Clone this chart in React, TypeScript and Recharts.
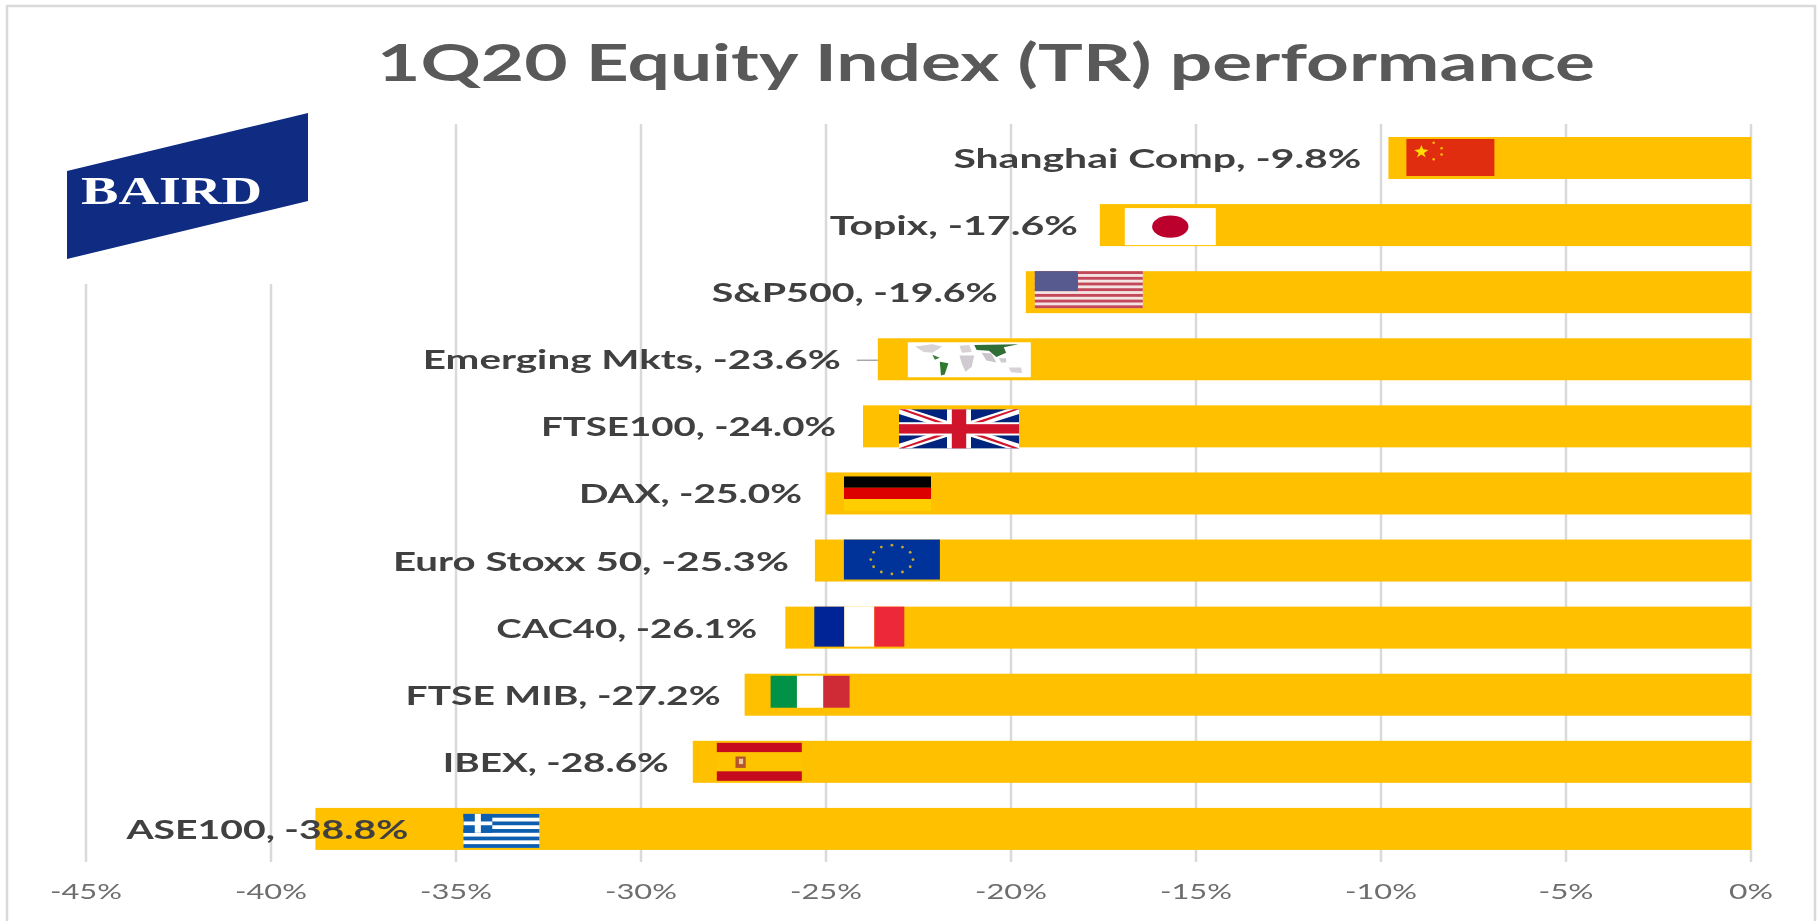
import React from "react";
import { BarChart, Bar, XAxis, YAxis, CartesianGrid, LabelList } from "recharts";

const categories = ["Shanghai Comp", "Topix", "S&P500", "Emerging Mkts", "FTSE100", "DAX", "Euro Stoxx 50", "CAC40", "FTSE MIB", "IBEX", "ASE100"];
const values = [-9.8, -17.6, -19.6, -23.6, -24.0, -25.0, -25.3, -26.1, -27.2, -28.6, -38.8];
const tickValues = [-45, -40, -35, -30, -25, -20, -15, -10, -5, 0];
const flagKinds = ["cn", "jp", "us", "world", "uk", "de", "eu", "fr", "it", "es", "gr"];

const rows = categories.map((name, i) => ({ name, value: values[i] }));

// Decoration layout, relative to each bar's left end and top edge.
const flagBoxes = [
  [18, 2, 88, 37], [25, 4, 91, 37], [9, 0, 108, 37], [30, 4, 123, 35], [36, 4, 120, 39], [18, 4, 87, 34],
  [29, 0, 96, 40], [29, 0, 90, 40], [26, 2, 79, 32], [24, 2, 85, 38], [148, 6, 76, 34],
];
const labelGaps = [27, 22, 28, 37, 27, 24, 26, 28, 24, 24, -93];
const labelWidths = [408, 248, 286, 418, 295, 223, 396, 261, 315, 226, 282];

const FONT = "Lato, 'Open Sans', sans-serif";
const AMBER = "#ffc000";

function Flag({ kind, x, y, w, h }: { kind: string; x: number; y: number; w: number; h: number }) {
  const R = (a: number, b: number, c: number, d: number, fill: string, key?: any) => (
    <rect key={key} x={x + a * w} y={y + b * h} width={c * w} height={d * h} fill={fill} />
  );
  const P = (pts: number[][], fill: string, key?: any) => (
    <polygon key={key} points={pts.map(([a, b]) => `${x + a * w},${y + b * h}`).join(" ")} fill={fill} />
  );
  if (kind === "cn") {
    const dots = [[0.31, 0.1], [0.4, 0.25], [0.4, 0.42], [0.31, 0.55]];
    return (
      <g>
        {R(0, 0, 1, 1, "#e02d10")}
        {P([[0.17, 0.16], [0.19, 0.28], [0.25, 0.3], [0.2, 0.38], [0.22, 0.5], [0.17, 0.42], [0.12, 0.5], [0.14, 0.38], [0.09, 0.3], [0.15, 0.28]], "#ffde00")}
        {dots.map(([a, b], i) => <circle key={i} cx={x + a * w} cy={y + b * h} r={1.3} fill="#f6c000" />)}
      </g>
    );
  }
  if (kind === "jp") {
    return <g>{R(0, 0, 1, 1, "#ffffff")}<ellipse cx={x + w / 2} cy={y + h / 2} rx={w * 0.2} ry={h * 0.3} fill="#bc002d" /></g>;
  }
  if (kind === "us") {
    return (
      <g>
        {R(0, 0, 1, 1, "#f4e4e4")}
        {Array.from({ length: 7 }).map((_, i) => R(0, (i * 2) / 13, 1, 1 / 13, "#c2485a", i))}
        {R(0, 0, 0.4, 7 / 13, "#565a8e")}
      </g>
    );
  }
  if (kind === "world") {
    return (
      <g>
        {R(0, 0, 1, 1, "#ffffff")}
        {P([[0.06, 0.12], [0.2, 0.06], [0.28, 0.12], [0.2, 0.3], [0.13, 0.28]], "#d6d2d6")}
        {P([[0.2, 0.36], [0.26, 0.44], [0.22, 0.5]], "#3c7f3c")}
        {P([[0.26, 0.56], [0.33, 0.6], [0.3, 0.92], [0.27, 0.95]], "#2f7a2f")}
        {P([[0.42, 0.1], [0.5, 0.08], [0.52, 0.28], [0.44, 0.3]], "#d6d2d6")}
        {P([[0.42, 0.38], [0.54, 0.38], [0.52, 0.7], [0.47, 0.84], [0.44, 0.62]], "#cfcbd0")}
        {P([[0.54, 0.08], [0.9, 0.06], [0.78, 0.14], [0.8, 0.3], [0.72, 0.42], [0.66, 0.24], [0.56, 0.22]], "#2f6e36")}
        {P([[0.6, 0.3], [0.68, 0.32], [0.72, 0.58], [0.64, 0.52]], "#c9c5cb")}
        {P([[0.74, 0.46], [0.8, 0.46], [0.8, 0.58], [0.76, 0.58]], "#cfcbd0")}
        {P([[0.82, 0.72], [0.92, 0.72], [0.93, 0.88], [0.84, 0.86]], "#d6d2d6")}
      </g>
    );
  }
  if (kind === "uk") {
    return (
      <g>
        {R(0, 0, 1, 1, "#00247d")}
        {P([[0, 0], [0.1, 0], [1, 0.88], [1, 1], [0.9, 1], [0, 0.12]], "#ffffff", "a")}
        {P([[1, 0], [0.9, 0], [0, 0.88], [0, 1], [0.1, 1], [1, 0.12]], "#ffffff", "b")}
        {P([[0, 0], [0.05, 0], [0.5, 0.47], [0.46, 0.5]], "#cf142b", "c")}
        {P([[1, 1], [0.95, 1], [0.5, 0.53], [0.54, 0.5]], "#cf142b", "d")}
        {P([[1, 0], [0.96, 0], [0.5, 0.46], [0.54, 0.5]], "#cf142b", "e")}
        {P([[0, 1], [0.04, 1], [0.5, 0.54], [0.46, 0.5]], "#cf142b", "f")}
        {R(0.4, 0, 0.2, 1, "#ffffff")}
        {R(0, 0.33, 1, 0.34, "#ffffff")}
        {R(0.44, 0, 0.12, 1, "#cf142b")}
        {R(0, 0.38, 1, 0.24, "#cf142b")}
      </g>
    );
  }
  if (kind === "de") {
    return <g>{R(0, 0, 1, 1 / 3, "#000000")}{R(0, 1 / 3, 1, 1 / 3, "#dd0000")}{R(0, 2 / 3, 1, 1 / 3, "#ffce00")}</g>;
  }
  if (kind === "eu") {
    return (
      <g>
        {R(0, 0, 1, 1, "#003399")}
        {Array.from({ length: 12 }).map((_, i) => (
          <circle key={i} cx={x + w / 2 + Math.cos((i * Math.PI) / 6) * w * 0.22} cy={y + h / 2 + Math.sin((i * Math.PI) / 6) * h * 0.36} r={1.4} fill="#c9a92c" />
        ))}
      </g>
    );
  }
  if (kind === "fr") {
    return <g>{R(0, 0, 1 / 3, 1, "#002395")}{R(1 / 3, 0, 1 / 3, 1, "#ffffff")}{R(2 / 3, 0, 1 / 3, 1, "#ed2939")}</g>;
  }
  if (kind === "it") {
    return <g>{R(0, 0, 1 / 3, 1, "#009246")}{R(1 / 3, 0, 1 / 3, 1, "#ffffff")}{R(2 / 3, 0, 1 / 3, 1, "#ce2b37")}</g>;
  }
  if (kind === "es") {
    return (
      <g>
        {R(0, 0, 1, 0.25, "#c60b1e")}
        {R(0, 0.25, 1, 0.5, "#ffc400")}
        {R(0, 0.75, 1, 0.25, "#c60b1e")}
        {R(0.22, 0.36, 0.12, 0.3, "#b5532a")}
        {R(0.26, 0.42, 0.05, 0.14, "#e8c9a0")}
      </g>
    );
  }
  // Greece
  return (
    <g>
      {R(0, 0, 1, 1, "#ffffff")}
      {[0, 2, 4, 6, 8].map((i) => R(0, i / 9, 1, 1 / 9, "#0d5eaf", i))}
      {R(0, 0, 0.38, 5 / 9, "#0d5eaf")}
      {R(0.15, 0, 0.08, 5 / 9, "#ffffff")}
      {R(0, 2 / 9, 0.38, 1 / 9, "#ffffff")}
    </g>
  );
}

function BarWithFlag(props: any) {
  const { x, y, width, height, index } = props;
  const left = Math.min(x, x + width);
  const [dx, dy, w, h] = flagBoxes[index];
  return (
    <g>
      <rect x={left} y={y} width={Math.abs(width)} height={height} fill={AMBER} />
      <Flag kind={flagKinds[index]} x={left + dx} y={y + dy} w={w} h={h} />
    </g>
  );
}

function DataLabel(props: any) {
  const { x, y, width, height, index } = props;
  const left = Math.min(x, x + width);
  const right = left - labelGaps[index];
  const w = labelWidths[index];
  const text = `${categories[index]}, ${values[index].toFixed(1)}%`;
  return (
    <g>
      {categories[index] === "Emerging Mkts" && (
        <line x1={left - 21} x2={left} y1={y + height / 2 + 1} y2={y + height / 2 + 1} stroke="#a6a6a6" strokeWidth={1.5} />
      )}
      <text x={right - w} y={y + height / 2 + 10} fontFamily={FONT} fontWeight={700} fontSize={26} fill="#404040" textLength={w} lengthAdjust="spacingAndGlyphs">
        {text}
      </text>
    </g>
  );
}

function AxisTick(props: any) {
  const { x, y, payload } = props;
  const label = `${payload.value}%`;
  const w = label.length === 2 ? 44 : label.length === 3 ? 55 : 72;
  return (
    <text x={x - w / 2} y={y + 29} fontFamily={FONT} fontSize={22} fill="#6e6e6e" textLength={w} lengthAdjust="spacingAndGlyphs">
      {label}
    </text>
  );
}

export default function App() {
  return (
    <div style={{ position: "absolute", left: 0, top: 0, width: 1820, height: 921, background: "#ffffff", overflow: "hidden", filter: "blur(0.6px)" }}>
      <BarChart
        width={1820}
        height={921}
        data={rows}
        layout="vertical"
        margin={{ top: 124, right: 69, bottom: 29, left: 86 }}
      >
        <CartesianGrid horizontal={false} stroke="#d9d9d9" strokeWidth={2.5} />
        <XAxis type="number" domain={[-45, 0]} ticks={tickValues} height={30} axisLine={false} tickLine={false} tick={<AxisTick />} interval={0} />
        <YAxis type="category" dataKey="name" hide />
        <Bar dataKey="value" barSize={42} fill={AMBER} isAnimationActive={false} shape={<BarWithFlag />}>
          <LabelList dataKey="value" content={<DataLabel />} />
        </Bar>
      </BarChart>
      <svg width={1820} height={921} style={{ position: "absolute", left: 0, top: 0, pointerEvents: "none" }}>
        <rect x={7} y={6} width={1808} height={930} fill="none" stroke="#d9d9d9" strokeWidth={2.5} />
        <rect x={60} y={110} width={252} height={174} fill="#ffffff" />
        <polygon points="67,171 308,113 308,201 67,259" fill="#0f2b82" />
        <text x={81} y={204} fontFamily="'Liberation Serif', serif" fontWeight={700} fontSize={40} fill="#ffffff" textLength={181} lengthAdjust="spacingAndGlyphs">
          BAIRD
        </text>
        <text x={377} y={81} fontFamily={FONT} fontWeight={700} fontSize={52} fill="#595959" textLength={1218} lengthAdjust="spacingAndGlyphs">
          1Q20 Equity Index (TR) performance
        </text>
      </svg>
    </div>
  );
}
